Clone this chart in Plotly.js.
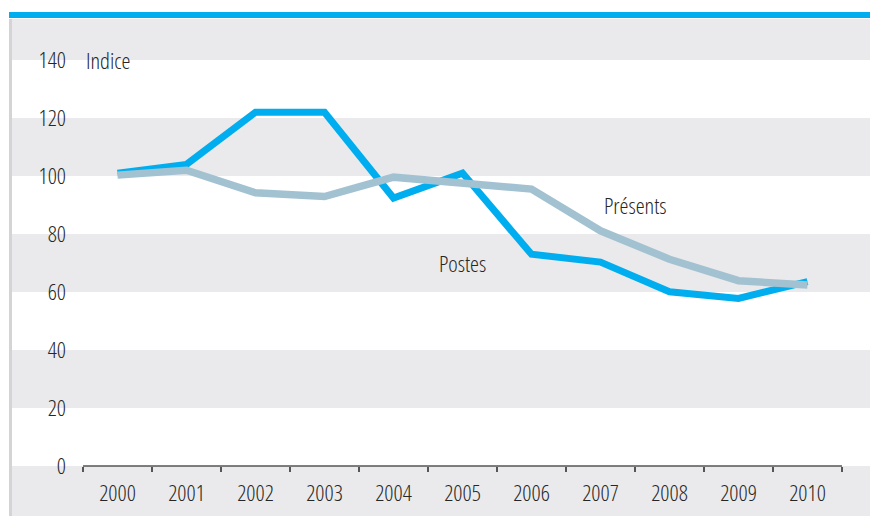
<!DOCTYPE html>
<html><head><meta charset="utf-8">
<script src="https://cdn.plot.ly/plotly-3.0.1.min.js"></script>
<style>html,body{margin:0;padding:0;background:#fff}#c{width:870px;height:516px}
text{font-stretch:condensed !important;}</style>
</head><body><div id="c"></div>
<script>
const years = ['2000','2001','2002','2003','2004','2005','2006','2007','2008','2009','2010'];
const postes = [101, 104, 122, 122, 92.4, 101, 73, 70.3, 60.1, 57.8, 63.6];
const presents = [100.3, 102, 94.2, 92.9, 99.6, 97.6, 95.5, 81.1, 71.3, 63.9, 62.4];
const yTicks = [0, 20, 40, 60, 80, 100, 120, 140];
const bandRanges = [[20, 40], [60, 80], [100, 120], [140, 200]];
const seriesLabels = ['Postes', 'Présents'];
const unitLabel = 'Indice';

const W = 870, H = 516, L = 72, R = 0, T = 19, B = 50;
const pw = W - L - R, ph = H - T - B;
const px2paperX = p => (p - L) / pw;
const px2paperY = p => (H - B - p) / ph;

const FONT = '"Open Sans", "Noto Sans", sans-serif';
const TXT = '#262626';
const BAND = '#EAEAEC';
const BLUE = '#00AEEF';
const GREY = '#A3C2D1';
const fnt = {family: FONT, size: 22.5, color: TXT, weight: 300};

const shapes = [];
bandRanges.forEach(r => shapes.push({type:'rect', layer:'below', xref:'paper', yref:'y',
  x0: px2paperX(12), x1: 1, y0: r[0], y1: r[1], fillcolor: BAND, line:{width:0}}));
shapes.push({type:'rect', layer:'below', xref:'paper', yref:'paper',
  x0: px2paperX(12), x1: 1, y0: px2paperY(H), y1: 0, fillcolor: BAND, line:{width:0}});
shapes.push({type:'line', layer:'above', xref:'paper', yref:'paper',
  x0: px2paperX(10.5), x1: px2paperX(10.5), y0: px2paperY(H), y1: 1, line:{color:'#D4D4D6', width:3}});
shapes.push({type:'rect', layer:'above', xref:'paper', yref:'paper',
  x0: px2paperX(9), x1: 1, y0: px2paperY(18), y1: px2paperY(12), fillcolor: BLUE, line:{width:0}});
shapes.push({type:'line', layer:'above', xref:'x', yref:'paper',
  x0: -0.5, x1: years.length - 0.5, y0: 0, y1: 0, line:{color:'#555555', width:1.5}});

const data = [
  {type:'scatter', mode:'lines', x: years, y: postes, name: seriesLabels[0],
   line:{color: BLUE, width: 7}, hoverinfo:'skip'},
  {type:'scatter', mode:'lines', x: years, y: presents, name: seriesLabels[1],
   line:{color: GREY, width: 7.5}, hoverinfo:'skip'}
];

const layout = {
  width: W, height: H,
  margin: {l: L, r: R, t: T, b: B, pad: 0},
  paper_bgcolor: '#fff', plot_bgcolor: 'rgba(0,0,0,0)',
  showlegend: false,
  font: fnt,
  xaxis: {type:'category', range: [-0.5 - 11/69, 10.5 + 28/69], tickson:'boundaries',
    ticks:'outside', ticklen: 5, tickwidth: 1.5, tickcolor:'#555555',
    showgrid:false, zeroline:false, showline:false, ticklabelstandoff: 11,
    tickfont: fnt},
  yaxis: {range: [0, ph / 2.9], tickvals: yTicks, ticktext: yTicks.map(String),
    showgrid:false, zeroline:false, showline:false, ticks:'', ticklabelstandoff: 5,
    tickfont: fnt},
  shapes: shapes,
  annotations: [
    {text: unitLabel, xref:'x', yref:'y', x: -0.48, y: 140, xanchor:'left', yanchor:'middle', showarrow:false, font: fnt},
    {text: seriesLabels[0], xref:'x', yref:'y', x: 5, y: 69.7, xanchor:'center', yanchor:'middle', showarrow:false, font: fnt},
    {text: seriesLabels[1], xref:'x', yref:'y', x: 7.51, y: 90, xanchor:'center', yanchor:'middle', showarrow:false, font: fnt}
  ]
};
Plotly.newPlot('c', data, layout, {staticPlot: true, displayModeBar: false});
</script></body></html>
